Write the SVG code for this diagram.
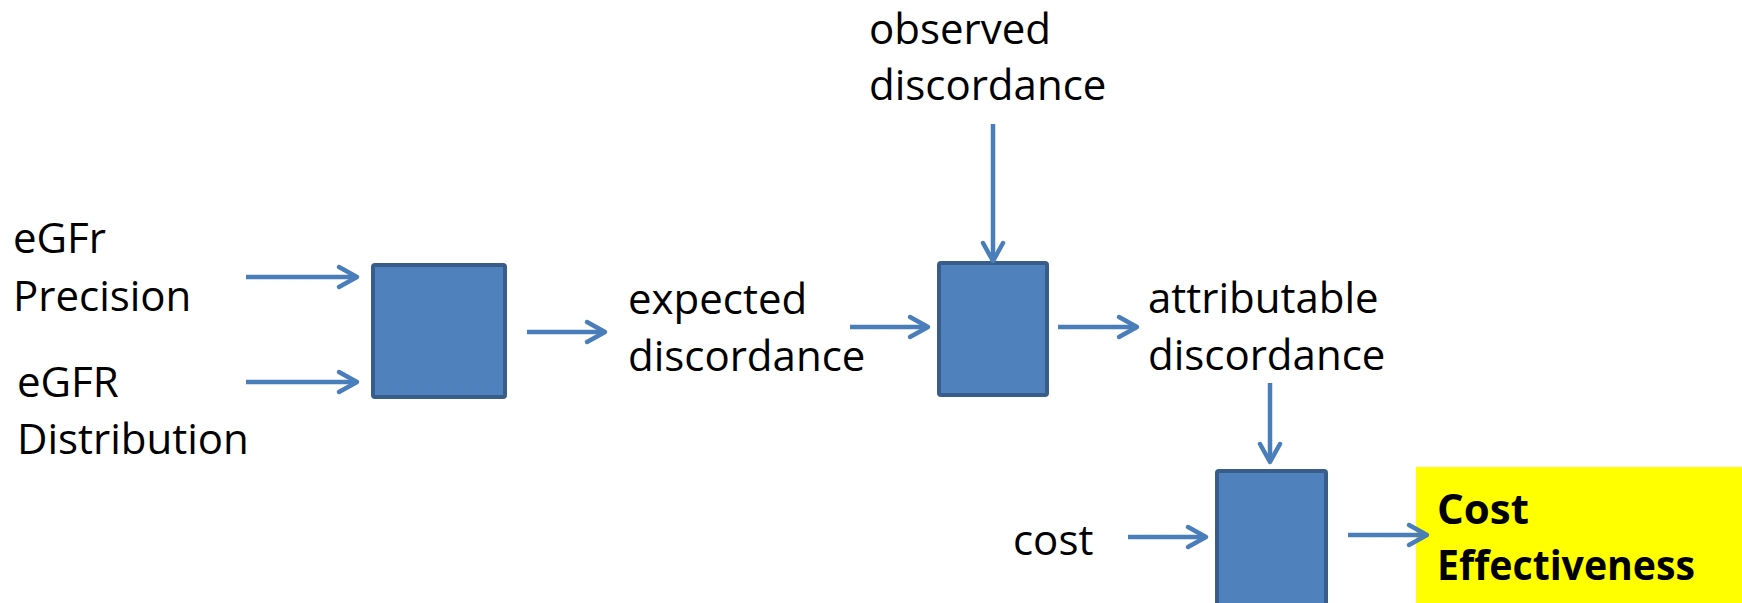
<svg xmlns="http://www.w3.org/2000/svg" width="1742" height="603" viewBox="0 0 1742 603">
<style>
.box{fill:#4f81bd;stroke:#385d8a;stroke-width:4}
.lbl{font-family:"Open Sans","Liberation Sans",sans-serif;font-size:42px;fill:#000}
.bold{font-family:"Open Sans","Liberation Sans",sans-serif;font-size:42px;font-weight:bold;fill:#000}
.conn{stroke:#4a7ebb;stroke-width:4.5;fill:none}
</style>
<defs>
<marker id="arr" markerUnits="userSpaceOnUse" viewBox="-24 -14 28 28" refX="0" refY="0" markerWidth="28" markerHeight="28" orient="auto">
<path d="M-18,-10 L0,0 L-18,10" fill="none" stroke="#4a7ebb" stroke-width="4.5" stroke-linecap="round" stroke-linejoin="round"/>
</marker>
</defs>
<rect width="1742" height="603" fill="#fff"/>
<g id="input-precision"><text class="lbl" x="13" y="253">eGFr</text><text class="lbl" x="13" y="311">Precision</text></g>
<g id="input-distribution"><text class="lbl" x="17" y="397">eGFR</text><text class="lbl" x="17" y="454">Distribution</text></g>
<g id="box1"><rect class="box" x="373" y="265" width="132" height="132" rx="2"/></g>
<g id="expected"><text class="lbl" x="628" y="314">expected</text><text class="lbl" x="628" y="371">discordance</text></g>
<g id="observed"><text class="lbl" x="869" y="44">observed</text><text class="lbl" x="869" y="100">discordance</text></g>
<g id="box2"><rect class="box" x="939" y="263" width="108" height="132" rx="2"/></g>
<g id="attributable"><text class="lbl" x="1148" y="313">attributable</text><text class="lbl" x="1148" y="370">discordance</text></g>
<g id="cost"><text class="lbl" x="1013" y="555">cost</text></g>
<g id="box3"><rect class="box" x="1217" y="471" width="109" height="140" rx="2"/></g>
<g id="cost-effectiveness"><rect x="1416" y="467" width="326" height="136" fill="#ffff00"/><text class="bold" x="1437" y="524">Cost</text><text class="bold" x="1437" y="580" textLength="258" lengthAdjust="spacingAndGlyphs">Effectiveness</text></g>
<g id="connectors">
<line class="conn" x1="246" y1="277" x2="357" y2="277" marker-end="url(#arr)"/>
<line class="conn" x1="246" y1="382" x2="357" y2="382" marker-end="url(#arr)"/>
<line class="conn" x1="527" y1="332" x2="605" y2="332" marker-end="url(#arr)"/>
<line class="conn" x1="850" y1="327" x2="928" y2="327" marker-end="url(#arr)"/>
<line class="conn" x1="993" y1="124" x2="993" y2="261" marker-end="url(#arr)"/>
<line class="conn" x1="1058" y1="327" x2="1137" y2="327" marker-end="url(#arr)"/>
<line class="conn" x1="1270" y1="383" x2="1270" y2="462" marker-end="url(#arr)"/>
<line class="conn" x1="1128" y1="537" x2="1206" y2="537" marker-end="url(#arr)"/>
<line class="conn" x1="1348" y1="535" x2="1427" y2="535" marker-end="url(#arr)"/>
</g>
</svg>
